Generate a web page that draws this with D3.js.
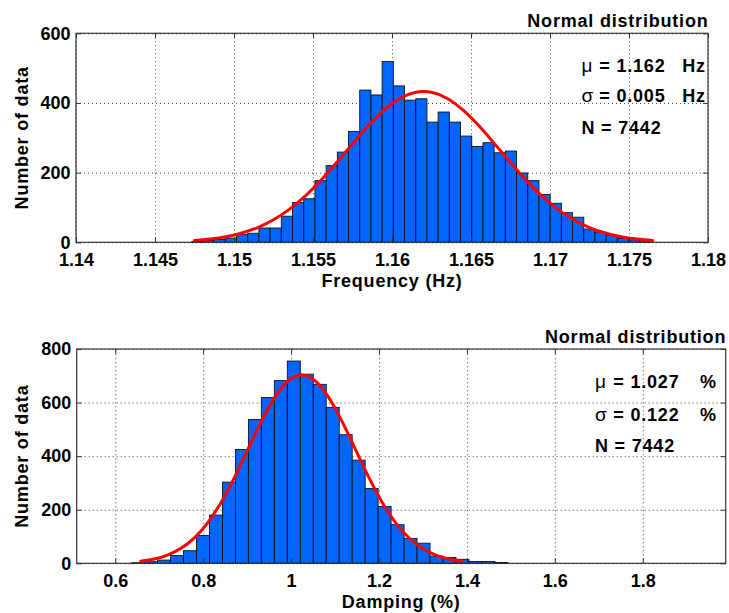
<!DOCTYPE html>
<html><head><meta charset="utf-8">
<script src="https://cdn.jsdelivr.net/npm/d3@7"></script>
<style>
body{margin:0;background:#fff;}
text{font-family:"Liberation Sans",Arial,Helvetica,sans-serif;}
</style></head>
<body>
<svg id="chart" width="729" height="613"></svg>
<script>
// ---------- Data: Frequency histogram ----------
const freqCounts = [2,5,8,12,22,26,41,41,75,114,125,177,220,259,318,437,423,519,449,408,
  412,345,374,345,305,275,286,257,262,199,177,137,112,85,72,38,29,20,11,7,5];
const freqBinStart = 1.147323;
const freqBinWidth = 0.000709;
const freqXTicks = [1.14,1.145,1.15,1.155,1.16,1.165,1.17,1.175,1.18];
const freqXTickLabels = ["1.14","1.145","1.15","1.155","1.16","1.165","1.17","1.175","1.18"];
const freqYTicks = [0,200,400,600];
const freqCurveX = [1.1475,1.1485,1.1495,1.1505,1.1515,1.1525,1.1535,1.1545,1.1555,1.1565,1.1575,1.1585,1.1595,1.1605,1.1615,1.162,
  1.1625,1.1635,1.1645,1.1655,1.1665,1.1675,1.1685,1.1695,1.1705,1.1715,1.1725,1.1735,1.1745,1.1755,1.1765];
const freqCurveY = [5.1,9.3,16.1,26.7,42.4,64.6,94.4,132.3,177.7,228.8,282.5,334.4,379.5,413,430.7,433,
  430.7,413,379.5,334.4,282.5,228.8,177.7,132.3,94.4,64.6,42.4,26.7,16.1,9.3,5.1];
const freqStatValues = ["1.162","0.005"];
const freqUnit = "Hz";

// ---------- Data: Damping histogram ----------
const dampCounts = [2,6,12,29,47,104,180,303,425,537,619,682,755,706,668,582,480,385,279,212,
  144,93,75,27,22,15,7,7,3];
const dampBinStart = 0.6373;
const dampBinWidth = 0.02951;
const dampXTicks = [0.6,0.8,1,1.2,1.4,1.6,1.8];
const dampXTickLabels = ["0.6","0.8","1","1.2","1.4","1.6","1.8"];
const dampYTicks = [0,200,400,600,800];
const dampCurveX = [0.658,0.6885,0.719,0.7495,0.780,0.8105,0.841,0.8715,0.902,0.9325,0.963,0.9935,1.024,
  1.0545,1.085,1.1155,1.146,1.1765,1.207,1.2375,1.268,1.2985,1.329,1.3595,1.390];
const dampCurveY = [7.8,16.0,30.9,55.9,95.1,152.1,228.3,321.8,426.4,530.6,620.4,681.4,703,
  681.4,620.4,530.6,426.4,321.8,228.3,152.1,95.1,55.9,30.9,16.0,7.8];
const dampStatValues = ["1.027","0.122"];
const dampUnit = "%";

const statSymbols = ["\u03bc","\u03c3"];
const sampleCount = "7442";
const titleText = "Normal distribution";
const yLabelText = "Number of data";

const svg = d3.select("#chart");
const BAR = "#0066ff", RED = "#ff0000", FRAME = "#333";

function panel(o){
  const g = svg.append("g");
  const x = d3.scaleLinear().domain(o.xDomain).range([o.left, o.right]);
  const y = d3.scaleLinear().domain(o.yDomain).range([o.bottom, o.top]);
  const W = o.right - o.left, H = o.bottom - o.top;

  // grid
  g.append("g").attr("transform",`translate(0,${o.bottom})`)
    .call(d3.axisBottom(x).tickValues(o.xTicks).tickSize(-H).tickFormat(""))
    .call(s=>{s.select(".domain").remove(); s.selectAll("line").attr("stroke","#444").attr("stroke-dasharray","1,3");});
  g.append("g").attr("transform",`translate(${o.left},0)`)
    .call(d3.axisLeft(y).tickValues(o.yTicks).tickSize(-W).tickFormat(""))
    .call(s=>{s.select(".domain").remove(); s.selectAll("line").attr("stroke","#444").attr("stroke-dasharray","1,3");});

  // bars
  g.append("g").selectAll("rect").data(o.counts).join("rect")
    .attr("x",(d,i)=>x(o.binStart+i*o.binWidth))
    .attr("width",(d,i)=>x(o.binStart+(i+1)*o.binWidth)-x(o.binStart+i*o.binWidth))
    .attr("y",d=>y(d))
    .attr("height",d=>y(0)-y(d))
    .attr("fill",BAR).attr("stroke","#111").attr("stroke-width",0.9);

  // fitted curve
  const pts = o.curveX.map((v,i)=>[v,o.curveY[i]]);
  g.append("path").datum(pts)
    .attr("d", d3.line().x(d=>x(d[0])).y(d=>y(d[1])).curve(d3.curveMonotoneX))
    .attr("fill","none").attr("stroke",RED).attr("stroke-width",3).attr("stroke-linecap","round");

  // frame
  g.append("rect").attr("x",o.left).attr("y",o.top).attr("width",W).attr("height",H)
    .attr("fill","none").attr("stroke",FRAME).attr("stroke-width",1.2);

  const styleAxis = s=>{
    s.select(".domain").remove();
    s.selectAll("line").attr("stroke",FRAME);
    s.selectAll("text").attr("font-size",18).attr("font-weight","bold").attr("fill","#000")
      .attr("font-family","'Liberation Sans',Arial,sans-serif");
  };
  g.append("g").attr("transform",`translate(0,${o.bottom})`)
    .call(d3.axisBottom(x).tickValues(o.xTicks).tickFormat((d,i)=>o.xTickLabels[i])
      .tickSizeInner(-5).tickSizeOuter(0).tickPadding(10.5)).call(styleAxis);
  g.append("g").attr("transform",`translate(0,${o.top})`)
    .call(d3.axisTop(x).tickValues(o.xTicks).tickFormat("").tickSizeInner(-5).tickSizeOuter(0)).call(styleAxis);
  g.append("g").attr("transform",`translate(${o.left},0)`)
    .call(d3.axisLeft(y).tickValues(o.yTicks).tickFormat(d3.format("d"))
      .tickSizeInner(-5).tickSizeOuter(0).tickPadding(5.5)).call(styleAxis);
  g.append("g").attr("transform",`translate(${o.right},0)`)
    .call(d3.axisRight(y).tickValues(o.yTicks).tickFormat("").tickSizeInner(-5).tickSizeOuter(0)).call(styleAxis);

  const bold = sel=>sel.attr("font-size",18).attr("font-weight","bold").attr("fill","#000").attr("letter-spacing","0.8px");

  // axis labels
  g.append("text").attr("x",(o.left+o.right)/2).attr("y",o.xLabelY).attr("text-anchor","middle")
    .text(o.xLabel).call(bold);
  g.append("text").attr("transform",`translate(28,${(o.top+o.bottom)/2}) rotate(-90)`)
    .attr("text-anchor","middle").text(yLabelText).call(bold);
  // title
  g.append("text").attr("x",o.right+0.5).attr("y",o.titleY).attr("text-anchor","end")
    .text(titleText).call(bold);

  // stats
  o.statValues.forEach((v,i)=>{
    g.append("text").attr("x",o.symX).attr("y",o.statY[i]).text(statSymbols[i])
      .attr("font-size",19).attr("fill","#000").attr("font-family","'DejaVu Sans',sans-serif").attr("font-weight","normal");
    g.append("text").attr("x",o.eqX).attr("y",o.statY[i]).text("= "+v).call(bold);
    g.append("text").attr("x",o.unitX).attr("y",o.statY[i]).text(o.unit).call(bold);
  });
  g.append("text").attr("x",o.symX).attr("y",o.statY[2]).text("N = "+sampleCount).call(bold);
}

panel({
  left:76, right:708, top:33.3, bottom:242.3,
  xDomain:[1.14,1.18], yDomain:[0,600],
  xTicks:freqXTicks, xTickLabels:freqXTickLabels, yTicks:freqYTicks,
  counts:freqCounts, binStart:freqBinStart, binWidth:freqBinWidth,
  curveX:freqCurveX, curveY:freqCurveY,
  xLabel:"Frequency (Hz)", xLabelY:286.5, titleY:27.3,
  statValues:freqStatValues, unit:freqUnit,
  symX:581.5, eqX:599.3, unitX:682.3, statY:[71.7,102,134]
});

panel({
  left:76.7, right:725.7, top:349, bottom:563.3,
  xDomain:[0.5123,1.9886], yDomain:[0,800],
  xTicks:dampXTicks, xTickLabels:dampXTickLabels, yTicks:dampYTicks,
  counts:dampCounts, binStart:dampBinStart, binWidth:dampBinWidth,
  curveX:dampCurveX, curveY:dampCurveY,
  xLabel:"Damping (%)", xLabelY:608, titleY:343.3,
  statValues:dampStatValues, unit:dampUnit,
  symX:595, eqX:613.3, unitX:700, statY:[388.3,420.7,452.3]
});
</script>
</body></html>
